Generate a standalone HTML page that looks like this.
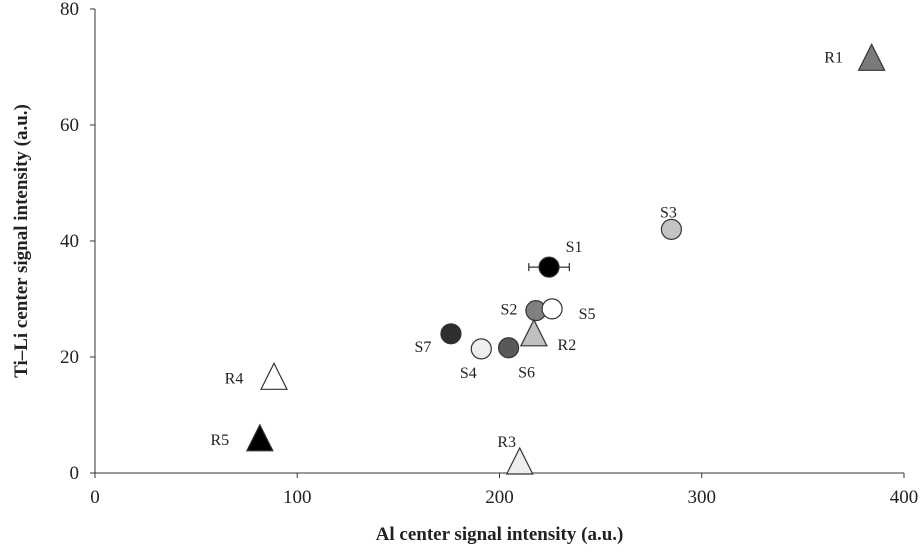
<!DOCTYPE html>
<html><head><meta charset="utf-8"><style>
body{margin:0;background:#fff}
svg text{font-family:"Liberation Serif",serif;fill:#222}
</style></head><body>
<svg width="922" height="548" xmlns="http://www.w3.org/2000/svg">
<g id="axes"></g><g id="marks"></g>
</svg>
<script>
const labels=["R1","S3","S1","S2","S5","R2","S7","S4","S6","R4","R5","R3"];
const xVals=[384,285,224.5,218,226,217,176,191,204.5,88.5,81.5,210];
const yVals=[71.5,42,35.5,28,28.3,24,24,21.4,21.6,16.5,5.9,1.9];
const shapes=["tri","circ","circ","circ","circ","tri","circ","circ","circ","tri","tri","tri"];
const fills=["#7a7a7a","#c4c4c4","#000","#808080","#fff","#c0c0c0","#2e2e2e","#efefef","#595959","#fff","#000","#eeeeee"];
const xErr=[0,0,10,0,0,0,0,0,0,0,0,0];
const labelDx=[-38,-3,25,-27,35,33,-28,-13,18,-40,-40,-13];
const labelDy=[-1,-17,-20,-1,5,11,13,24,25,1,1,-20];
const xTicks=[0,100,200,300,400];
const yTicks=[0,20,40,60,80];
const X0=95,X1=904,Y0=473,Y1=9;
const sx=v=>X0+(v/400)*(X1-X0), sy=v=>Y0-(v/80)*(Y0-Y1);
const NS="http://www.w3.org/2000/svg";
function mk(p,t,a){const e=document.createElementNS(NS,t);for(const k in a)e.setAttribute(k,a[k]);p.appendChild(e);return e;}
const ax=document.getElementById('axes'),mg=document.getElementById('marks');
let l=mk(ax,'line',{x1:X0,y1:Y1,x2:X0,y2:Y0,stroke:'#333'});


l=mk(ax,'line',{x1:X0,y1:Y0,x2:X1,y2:Y0,stroke:'#333'});


xTicks.forEach(v=>{mk(ax,'line',{x1:sx(v),y1:Y0,x2:sx(v),y2:Y0+5,stroke:'#333'});
const t=mk(ax,'text',{x:sx(v),y:Y0+30,'text-anchor':'middle','font-size':19});t.textContent=v;

});
yTicks.forEach(v=>{mk(ax,'line',{x1:X0-5,y1:sy(v),x2:X0,y2:sy(v),stroke:'#333'});
const t=mk(ax,'text',{x:X0-16,y:sy(v)+6,'text-anchor':'end','font-size':19});t.textContent=v;

});
let t=mk(ax,'text',{x:(X0+X1)/2,y:540,'text-anchor':'middle','font-size':19,'font-weight':'bold'});t.textContent="Al center signal intensity (a.u.)";


t=mk(ax,'text',{x:0,y:0,'text-anchor':'middle','font-size':19,'font-weight':'bold',transform:`translate(27,${(Y0+Y1)/2}) rotate(-90)`});t.textContent="Ti\u2013Li center signal intensity (a.u.)";


labels.forEach((n,i)=>{const cx=sx(xVals[i]),cy=sy(yVals[i]);
if(xErr[i]){const a=sx(xVals[i]-xErr[i]),b=sx(xVals[i]+xErr[i]);
mk(mg,'line',{x1:a,y1:cy,x2:b,y2:cy,stroke:'#000'});mk(mg,'line',{x1:a,y1:cy-4,x2:a,y2:cy+4,stroke:'#000'});mk(mg,'line',{x1:b,y1:cy-4,x2:b,y2:cy+4,stroke:'#000'});}
let m;
if(shapes[i]==="circ")m=mk(mg,'circle',{cx,cy,r:10,fill:fills[i],stroke:'#333','stroke-width':1.2});
else m=mk(mg,'polygon',{points:`${cx-13},${cy+12} ${cx+13},${cy+12} ${cx},${cy-14}`,fill:fills[i],stroke:'#333','stroke-width':1.2});


const tx=mk(mg,'text',{x:cx+labelDx[i],y:cy+labelDy[i]+5,'text-anchor':'middle','font-size':16});tx.textContent=n;

});
</script>
</body></html>
